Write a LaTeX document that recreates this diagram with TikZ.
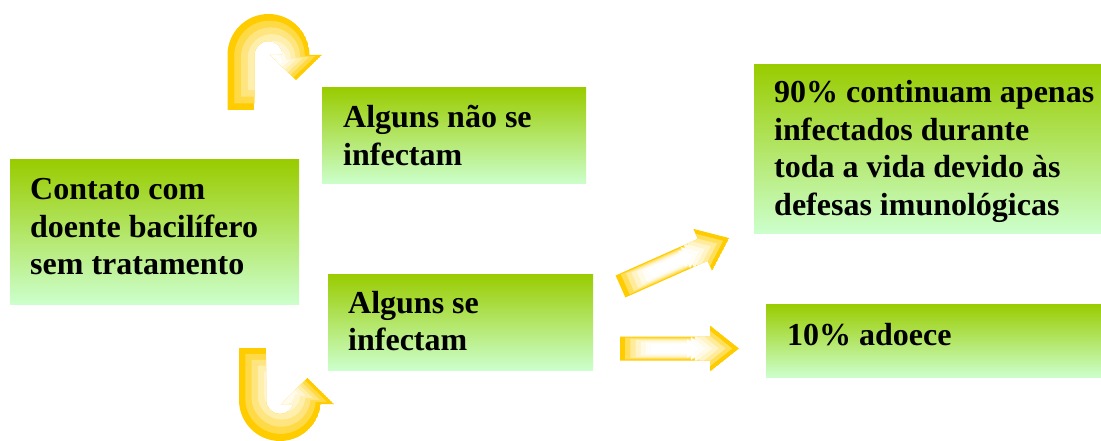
\documentclass[tikz,border=0pt]{standalone}
\usepackage{fontspec}
\setmainfont{Liberation Serif}
\definecolor{ay}{HTML}{FFCC00}
\definecolor{gtop}{HTML}{99CC00}
\definecolor{gbot}{HTML}{CCFFCC}
\tikzset{
  box/.style={draw=none, top color=gtop, bottom color=gbot, inner sep=0pt, outer sep=0pt, anchor=north west},
  txt/.style={anchor=base west, inner sep=0pt, font=\fontsize{32}{37.5}\selectfont\bfseries},
}
\newcommand\uA{(227.5,110) -- (227.5,55) arc[start angle=180,end angle=360,radius=41] -- (322,55) -- (296,80) -- (270,55) -- (282.5,55) arc[start angle=0,end angle=-180,radius=14] -- (254.5,110) -- cycle}
\newcommand\uB{(239,348) -- (239,400) arc[start angle=180,end angle=0,radius=41] -- (321,404) -- (334,404) -- (307.5,378) -- (281,404) -- (294,404) -- (294,400) arc[start angle=0,end angle=180,radius=14] -- (266,348) -- cycle}
\newcommand\sA{(0,-12) -- (90,-12) -- (90,-23) -- (119,0) -- (90,23) -- (90,12) -- (0,12) -- cycle}
\newcommand\bands{1/100,0.86/72,0.72/50,0.58/32,0.44/18,0.3/7,0.16/0}
\newcommand\sbands{1/100,0.9/65,0.8/40,0.7/22,0.6/10,0.5/3,0.4/0}
\begin{document}
\begin{tikzpicture}[x=1pt,y=-1pt]
\useasboundingbox[fill=white] (0,0) rectangle (1101,441);
% boxes
\node[box, minimum width=289pt, minimum height=144pt] (b1) at (10,160) {};
\node[box, minimum width=264pt, minimum height=96pt] (b2) at (322,88) {};
\node[box, minimum width=265pt, minimum height=96pt] (b3) at (328,274) {};
\node[box, minimum width=347pt, minimum height=168pt] (b4) at (754,65) {};
\node[box, minimum width=335pt, minimum height=73pt] (b5) at (766,304) {};
% texts
\node[txt] (t1) at (30,200) {\begin{tabular}[t]{@{}l@{}}Contato com\\doente bacilífero\\sem tratamento\end{tabular}};
\node[txt] (t2) at (343,128) {\begin{tabular}[t]{@{}l@{}}Alguns não se\\infectam\end{tabular}};
\node[txt] (t3) at (348,313) {\begin{tabular}[t]{@{}l@{}}Alguns se\\infectam\end{tabular}};
\node[txt] (t4) at (774,103) {\begin{tabular}[t]{@{}l@{}}90\% continuam apenas\\infectados durante\\toda a vida devido às\\defesas imunológicas\end{tabular}};
\node[txt] (t5) at (787,345) {10\% adoece};
% U-turn arrows
\begin{scope}
  \clip \uA;
  \foreach \s/\c in \bands
    {\fill[ay!\c!white, scale around={\s:(276,62)}] \uA;}
\end{scope}
\begin{scope}
  \clip \uB;
  \foreach \s/\c in \bands
    {\fill[ay!\c!white, scale around={\s:(284,390)}] \uB;}
\end{scope}
% straight arrows
\begin{scope}[shift={(620.5,286.5)}, rotate=24]
  \clip \sA;
  \foreach \s/\c in \sbands
    {\fill[ay!\c!white, scale around={\s:(52,0)}] \sA;}
\end{scope}
\begin{scope}[shift={(620,348.5)}]
  \clip \sA;
  \foreach \s/\c in \sbands
    {\fill[ay!\c!white, scale around={\s:(52,0)}] \sA;}
\end{scope}
\end{tikzpicture}
\end{document}
